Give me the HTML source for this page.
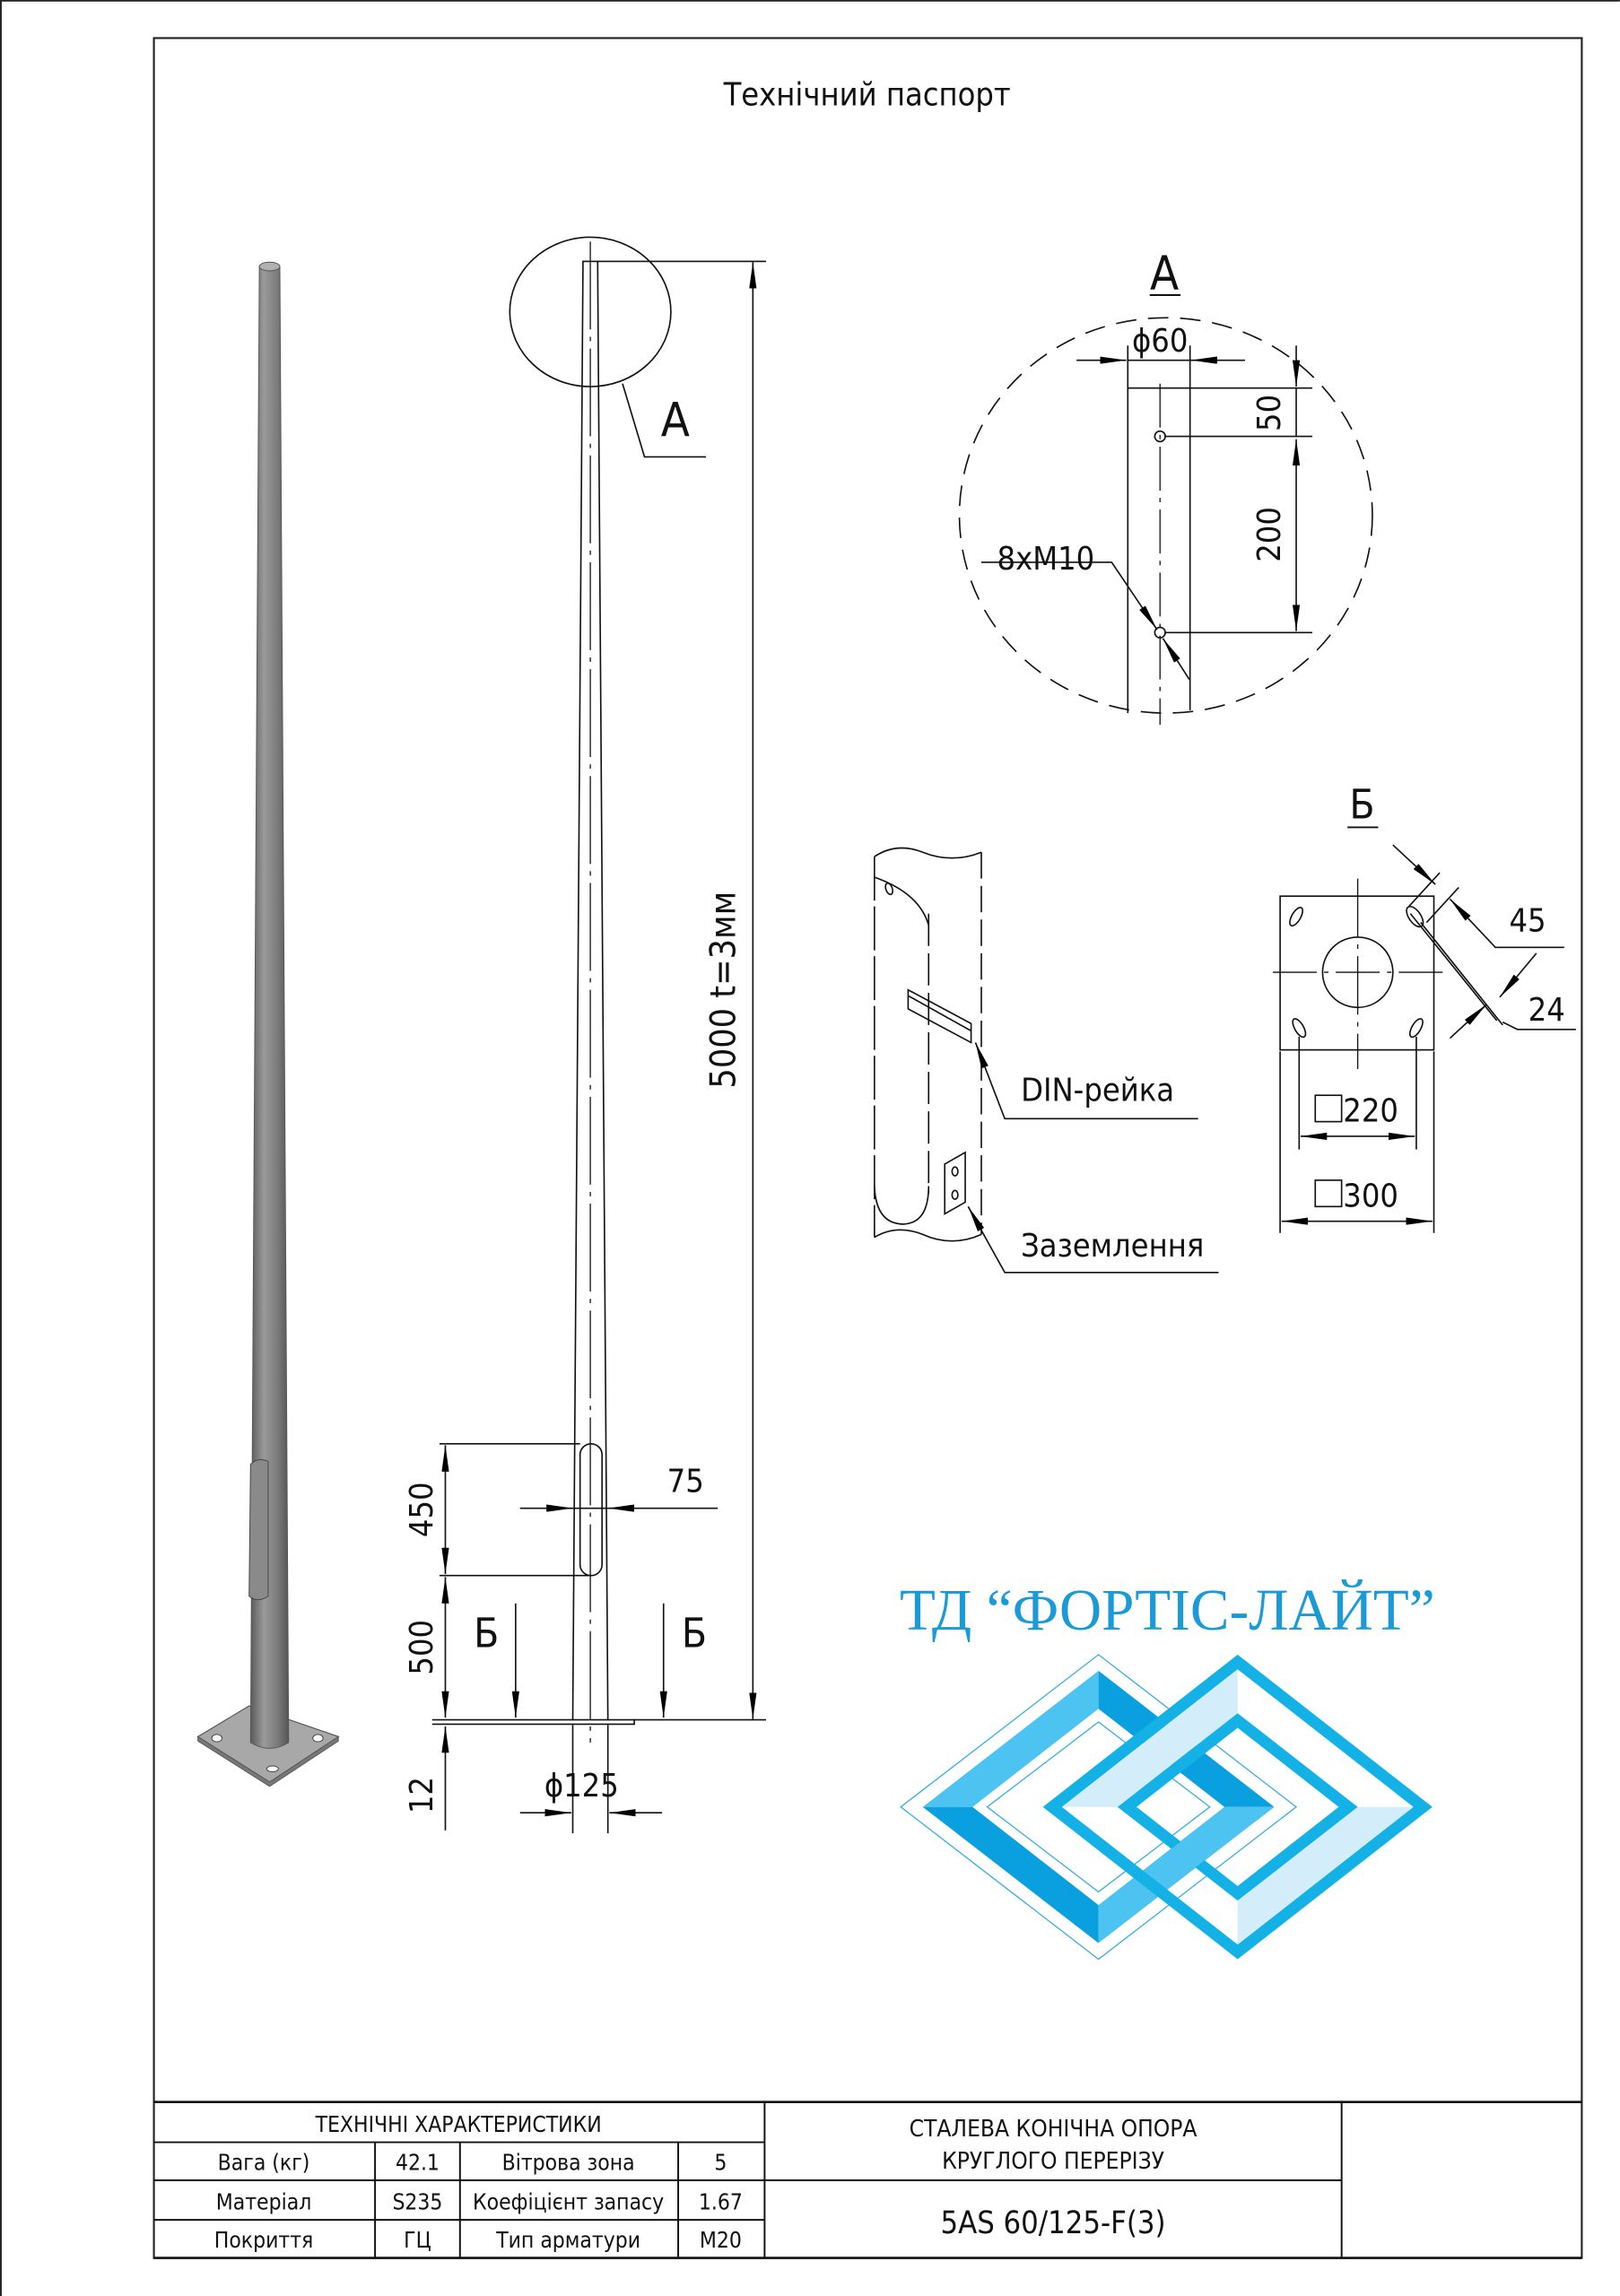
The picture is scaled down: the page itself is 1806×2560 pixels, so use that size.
<!DOCTYPE html>
<html><head><meta charset="utf-8"><style>
html,body{margin:0;padding:0;background:#fff}
svg{display:block}
text{font-family:"DejaVu Sans Condensed","DejaVu Sans","Liberation Sans",sans-serif;font-stretch:condensed;fill:#111}
</style></head><body>
<svg width="1806" height="2560" viewBox="0 0 1106 1568" xmlns="http://www.w3.org/2000/svg">
<defs>
<marker id="a" viewBox="0 0 18 5" refX="18" refY="2.5" markerWidth="18" markerHeight="5" markerUnits="userSpaceOnUse" orient="auto-start-reverse"><path d="M0,0L18,2.5L0,5z" fill="#000"/></marker>
<linearGradient id="pg" x1="0" x2="1" y1="0" y2="0"><stop offset="0" stop-color="#5a5a5a"/><stop offset="0.35" stop-color="#9a9a9a"/><stop offset="0.7" stop-color="#7c7c7c"/><stop offset="1" stop-color="#555"/></linearGradient>
</defs>
<rect width="1106" height="1568" fill="#fff"/>
<g fill="none" stroke="#222" stroke-width="1">
<line x1="0.5" y1="0" x2="0.5" y2="1568" stroke-width="1.2"/>
<line x1="0" y1="0.5" x2="1106" y2="0.5" stroke-width="1.2"/>
<rect x="105" y="26" width="975" height="1516" stroke-width="1.3"/>
</g>
<text x="592" y="72" font-size="22" text-anchor="middle">Технічний паспорт</text>

<!-- 3D pole -->
<path d="M135,1186 L170,1165 L231,1186 L184,1217 Z" fill="#a8a8a8" stroke="#555" stroke-width="0.7"/>
<path d="M135,1186 L135,1189 L184,1220 L231,1189 L231,1186 L184,1217 Z" fill="#777" stroke="#555" stroke-width="0.5"/>
<ellipse cx="148" cy="1187" rx="3.5" ry="2.5" fill="#fff" stroke="#444" stroke-width="0.6"/>
<ellipse cx="217" cy="1187" rx="3.5" ry="2.5" fill="#fff" stroke="#444" stroke-width="0.6"/>
<ellipse cx="186" cy="1208" rx="4" ry="2" fill="#fff" stroke="#444" stroke-width="0.6"/>
<path d="M177,182 L191,182 L197,1190 Q184,1198 171,1190 Z" fill="url(#pg)" stroke="#555" stroke-width="0.6"/>
<path d="M171,1000 Q176,995 183,998 L183,1090 Q176,1095 170,1090 Z" fill="#8a8a8a" stroke="#444" stroke-width="0.6"/>
<ellipse cx="184" cy="182" rx="7" ry="3" fill="#b0b0b0" stroke="#555" stroke-width="0.6"/>

<!-- Main pole drawing -->
<g fill="none" stroke="#111" stroke-width="1">
<path d="M398,178 L391,1175 M408,178 L415,1175"/>
<line x1="398" y1="178.5" x2="523" y2="178.5"/>
<line x1="403" y1="165" x2="403" y2="1190" stroke-dasharray="60,5,3,5" stroke-width="0.8"/>
<ellipse cx="403" cy="213" rx="55" ry="51"/>
<path d="M425,262 L440,312 L482,312"/>
<rect x="396" y="986" width="15" height="90" rx="7.5"/>
<line x1="514" y1="179" x2="514" y2="1174" marker-start="url(#a)" marker-end="url(#a)"/>
<line x1="295" y1="1174.5" x2="523" y2="1174.5"/>
<line x1="295" y1="1177.5" x2="433" y2="1177.5"/>
<line x1="433" y1="1174" x2="433" y2="1178"/>
<line x1="300" y1="986" x2="396" y2="986"/>
<line x1="300" y1="1076" x2="402" y2="1076"/>
<line x1="304" y1="987" x2="304" y2="1075" marker-start="url(#a)" marker-end="url(#a)"/>
<line x1="304" y1="1077" x2="304" y2="1173" marker-start="url(#a)" marker-end="url(#a)"/>
<line x1="304" y1="1250" x2="304" y2="1179" marker-end="url(#a)"/>
<line x1="355" y1="1030" x2="391" y2="1030" marker-end="url(#a)"/>
<line x1="490" y1="1030" x2="415" y2="1030" marker-end="url(#a)"/>
<line x1="391" y1="1030" x2="415" y2="1030"/>
<line x1="352" y1="1095" x2="352" y2="1173" marker-end="url(#a)"/>
<line x1="453" y1="1095" x2="453" y2="1173" marker-end="url(#a)"/>
<line x1="391" y1="1178" x2="391" y2="1252"/>
<line x1="415" y1="1178" x2="415" y2="1252"/>
<line x1="355" y1="1238" x2="390" y2="1238" marker-end="url(#a)"/>
<line x1="452" y1="1238" x2="416" y2="1238" marker-end="url(#a)"/>
</g>
<text x="461" y="298" font-size="32" text-anchor="middle">A</text>
<text transform="translate(502,676) rotate(-90)" font-size="24" text-anchor="middle">5000 t=3мм</text>
<text transform="translate(295,1031) rotate(-90)" font-size="22" text-anchor="middle">450</text>
<text transform="translate(295,1125) rotate(-90)" font-size="22" text-anchor="middle">500</text>
<text transform="translate(295,1226) rotate(-90)" font-size="22" text-anchor="middle">12</text>
<text x="468" y="1019" font-size="22" text-anchor="middle">75</text>
<text x="332" y="1125" font-size="28" text-anchor="middle">Б</text>
<text x="474" y="1125" font-size="28" text-anchor="middle">Б</text>
<text x="397" y="1227" font-size="22" text-anchor="middle">ϕ125</text>

<!-- Detail A -->
<text x="795" y="198" font-size="32" text-anchor="middle">A</text>
<line x1="785" y1="201.5" x2="806" y2="201.5" stroke="#111" stroke-width="1.2"/>
<g fill="none" stroke="#111" stroke-width="1">
<ellipse cx="796" cy="352" rx="141" ry="135" stroke-dasharray="14,8"/>
<path d="M770,236 L770,487 M812.5,236 L812.5,485"/>
<line x1="792" y1="262" x2="792" y2="495" stroke-dasharray="30,5,3,5" stroke-width="0.8"/>
<line x1="735" y1="246" x2="769" y2="246" marker-end="url(#a)"/>
<line x1="850" y1="246" x2="813" y2="246" marker-end="url(#a)"/>
<line x1="770" y1="246" x2="812" y2="246"/>
<line x1="770" y1="265" x2="896" y2="265"/>
<line x1="795" y1="298" x2="896" y2="298"/>
<line x1="795" y1="432" x2="896" y2="432"/>
<line x1="885" y1="236" x2="885" y2="264" marker-end="url(#a)"/>
<line x1="885" y1="300" x2="885" y2="431" marker-start="url(#a)" marker-end="url(#a)"/>
<line x1="885" y1="265" x2="885" y2="298"/>
<circle cx="792" cy="298" r="3.6"/>
<circle cx="792" cy="432" r="3.6"/>
<path d="M670,384 L759,384 L790,430" marker-end="url(#a)"/>
<line x1="812" y1="464" x2="794" y2="436" marker-end="url(#a)"/>
</g>
<text x="792" y="240" font-size="22" text-anchor="middle">ϕ60</text>
<text transform="translate(874,282) rotate(-90)" font-size="22" text-anchor="middle">50</text>
<text transform="translate(874,365) rotate(-90)" font-size="22" text-anchor="middle">200</text>
<text x="714" y="389" font-size="22" text-anchor="middle">8xM10</text>

<!-- DIN detail -->
<g fill="none" stroke="#111" stroke-width="1">
<path d="M597,585 Q612,575 630,582 Q650,590 670,582"/>
<path d="M597,845 Q612,836 630,843 Q650,852 670,843"/>
<line x1="597" y1="585" x2="597" y2="845" stroke-dasharray="30,4"/>
<line x1="670" y1="582" x2="670" y2="843" stroke-dasharray="18,5"/>
<line x1="634" y1="624" x2="634" y2="815" stroke-dasharray="22,5"/>
<path d="M597,599 Q628,610 634,632"/>
<path d="M634,810 Q634,835 617,836 Q598,836 597,810"/>
<ellipse cx="607" cy="607" rx="2.2" ry="4" transform="rotate(-20 607 607)"/>
<path d="M620,676 L663,699 L663,712 L620,689 Z M620,676 L620,680 L663,704"/>
<path d="M645,795 L659,787 L659,821 L645,829 Z"/>
<ellipse cx="652" cy="800" rx="2" ry="3"/>
<ellipse cx="652" cy="816" rx="2" ry="3"/>
<path d="M818,764 L686,764 L666,712" marker-end="url(#a)"/>
<path d="M832,869 L686,869 L661,824" marker-end="url(#a)"/>
</g>
<text x="697" y="752" font-size="22">DIN-рейка</text>
<text x="697" y="858" font-size="22">Заземлення</text>

<!-- Detail Б -->
<text x="930" y="559" font-size="28" text-anchor="middle">Б</text>
<line x1="920" y1="565" x2="941" y2="565" stroke="#111" stroke-width="1.2"/>
<g fill="none" stroke="#111" stroke-width="1">
<rect x="874" y="612" width="105" height="105"/>
<circle cx="927" cy="664" r="24"/>
<line x1="869" y1="664" x2="989" y2="664" stroke-dasharray="30,5,3,5" stroke-width="0.8"/>
<line x1="927" y1="600" x2="927" y2="730" stroke-dasharray="40,5,3,5" stroke-width="0.8"/>
<ellipse cx="885" cy="626" rx="3" ry="7" transform="rotate(30 885 626)"/>
<ellipse cx="966" cy="626" rx="4" ry="8" transform="rotate(-35 966 626)"/>
<ellipse cx="887" cy="702" rx="3" ry="7" transform="rotate(-30 887 702)"/>
<ellipse cx="967" cy="702" rx="3" ry="7" transform="rotate(30 967 702)"/>
<line x1="963" y1="624" x2="1022" y2="697"/>
<line x1="970" y1="630" x2="1026" y2="700"/>
<line x1="983" y1="596" x2="962" y2="619"/>
<line x1="996" y1="606" x2="974" y2="630"/>
<line x1="951" y1="577" x2="980" y2="604" marker-end="url(#a)"/>
<path d="M1068,647 L1021,647 L990,614" marker-end="url(#a)"/>
<line x1="1049" y1="651" x2="1024" y2="681" marker-end="url(#a)"/>
<line x1="990" y1="709" x2="1015" y2="686" marker-end="url(#a)"/>
<path d="M1026,698 L1036,703 L1076,703"/>
<line x1="874" y1="718" x2="874" y2="842"/>
<line x1="979" y1="718" x2="979" y2="842"/>
<line x1="887" y1="708" x2="887" y2="785"/>
<line x1="967" y1="708" x2="967" y2="785"/>
<line x1="888" y1="776" x2="966" y2="776" marker-start="url(#a)" marker-end="url(#a)"/>
<line x1="875" y1="834" x2="978" y2="834" marker-start="url(#a)" marker-end="url(#a)"/>
<rect x="898" y="748" width="18" height="18"/>
<rect x="898" y="806" width="18" height="18"/>
</g>
<text x="1043" y="636" font-size="22" text-anchor="middle">45</text>
<text x="1056" y="697" font-size="22" text-anchor="middle">24</text>
<text x="917" y="766" font-size="22">220</text>
<text x="917" y="824" font-size="22">300</text>

<!-- Logo -->
<text x="797" y="1113" font-size="40" text-anchor="middle" style="font-family:'Liberation Serif',serif;font-stretch:normal;fill:#1a9ad6">ТД “ФОРТІС-ЛАЙТ”</text>
<g>
<polygon points="615,1234 750,1130 885,1234 750,1338" fill="#fff" stroke="#3aaee0" stroke-width="0.8"/>
<polygon points="630,1234 750,1141 750,1167 664,1234" fill="#4cc3f0"/>
<polygon points="750,1141 870,1234 836,1234 750,1167" fill="#0a9fde"/>
<polygon points="870,1234 750,1327 750,1301 836,1234" fill="#4cc3f0"/>
<polygon points="750,1327 630,1234 664,1234 750,1301" fill="#0a9fde"/>
<polygon points="674,1234 750,1176 826,1234 750,1292" fill="none" stroke="#3aaee0" stroke-width="0.8"/>
</g>
<g>
<path d="M712,1234 L845,1130 L978,1234 L845,1338 Z M725,1234 L845,1328 L965,1234 L845,1140 Z" fill="#14b1e6" fill-rule="evenodd"/>
<polygon points="725,1234 845,1140 845,1170 763,1234" fill="#d3eefa"/>
<polygon points="965,1234 845,1328 845,1298 927,1234" fill="#d3eefa"/>
<path d="M763,1234 L845,1170 L927,1234 L845,1298 Z M776,1234 L845,1288 L914,1234 L845,1180 Z" fill="#14b1e6" fill-rule="evenodd"/>
</g>
<polygon points="836,1234 870,1234 810,1280 793,1268" fill="#4cc3f0"/>

<!-- Table -->
<g fill="none" stroke="#111" stroke-width="1.2">
<line x1="105" y1="1435.5" x2="1080" y2="1435.5" stroke-width="1.6"/>
<line x1="105" y1="1542" x2="1080" y2="1542" stroke-width="1.6"/>
<line x1="105" y1="1463" x2="522" y2="1463"/>
<line x1="105" y1="1489" x2="916" y2="1489"/>
<line x1="105" y1="1516" x2="522" y2="1516"/>
<line x1="256" y1="1463" x2="256" y2="1542"/>
<line x1="314" y1="1463" x2="314" y2="1542"/>
<line x1="463" y1="1463" x2="463" y2="1542"/>
<line x1="522" y1="1435" x2="522" y2="1542"/>
<line x1="916" y1="1435" x2="916" y2="1542"/>
</g>
<g font-size="15" text-anchor="middle">
<text x="313" y="1456">ТЕХНІЧНІ ХАРАКТЕРИСТИКИ</text>
<text x="180" y="1482">Вага (кг)</text>
<text x="285" y="1482">42.1</text>
<text x="388" y="1482">Вітрова зона</text>
<text x="492" y="1482">5</text>
<text x="180" y="1509">Матеріал</text>
<text x="285" y="1509">S235</text>
<text x="388" y="1509">Коефіцієнт запасу</text>
<text x="492" y="1509">1.67</text>
<text x="180" y="1535">Покриття</text>
<text x="285" y="1535">ГЦ</text>
<text x="388" y="1535">Тип арматури</text>
<text x="492" y="1535">M20</text>
<text x="719" y="1459" font-size="16">СТАЛЕВА КОНІЧНА ОПОРА</text>
<text x="719" y="1481" font-size="16">КРУГЛОГО ПЕРЕРІЗУ</text>
<text x="719" y="1525" font-size="21">5AS 60/125-F(3)</text>
</g>
</svg>
</body></html>
